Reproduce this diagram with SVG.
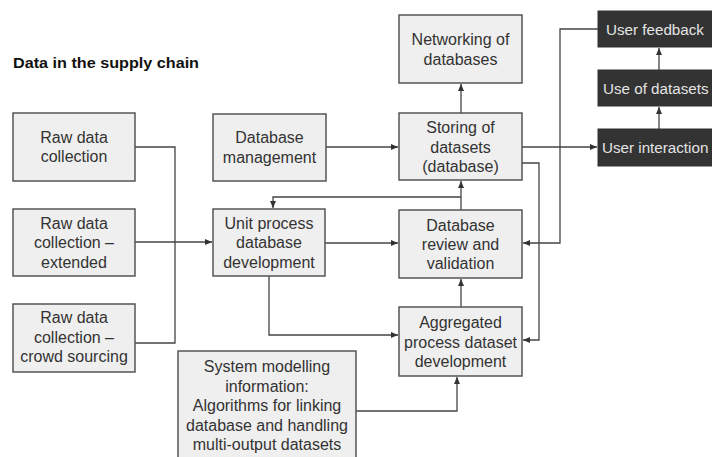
<svg xmlns="http://www.w3.org/2000/svg" width="712" height="457" viewBox="0 0 712 457">
<style>
.box{fill:#efefef;stroke:#555;stroke-width:1.5}
.dark{fill:#333;stroke:#333;stroke-width:1}
.t{font-family:"Liberation Sans",Arial,sans-serif;font-size:16px;fill:#333;text-anchor:middle}
.dt{font-family:"Liberation Sans",Arial,sans-serif;font-size:15.2px;fill:#e4e4e4;text-anchor:start}
.title{font-family:"Liberation Sans",Arial,sans-serif;font-size:15px;font-weight:bold;fill:#111}
.c{fill:none;stroke:#444;stroke-width:1.3}
.a{marker-end:url(#arr)}
</style>
<defs>
<marker id="arr" markerUnits="userSpaceOnUse" markerWidth="8" markerHeight="8" viewBox="0 0 8 8" refX="7" refY="4" orient="auto">
<path d="M0,1 L7,4 L0,7 Z" fill="#333"/>
</marker>
</defs>
<rect width="712" height="457" fill="#fff"/>
<text class="title" x="13" y="68" textLength="186" lengthAdjust="spacingAndGlyphs">Data in the supply chain</text>

<g id="connectors">
<path class="c" d="M135,147 H175 V343 H135"/>
<path class="c a" d="M135,242 H212"/>
<path class="c a" d="M326,147 H398"/>
<path class="c a" d="M461,113 V84"/>
<path class="c a" d="M522,147 H597"/>
<path class="c a" d="M461,210 V181"/>
<path class="c a" d="M461,197 H273 V208"/>
<path class="c a" d="M325,243 H398"/>
<path class="c a" d="M269,276 V335 H398"/>
<path class="c a" d="M461,307 V279"/>
<path class="c a" d="M522,163 H539 V340 H523"/>
<path class="c a" d="M598,29 H560 V243 H523"/>
<path class="c a" d="M659,129 V107"/>
<path class="c a" d="M659,70 V48"/>
<path class="c a" d="M356,411 H457 V377"/>
</g>

<g id="raw1"><rect class="box" x="13" y="113" width="122" height="68"/>
<text class="t" x="74" y="143">Raw data</text><text class="t" x="74" y="162">collection</text></g>

<g id="raw2"><rect class="box" x="13" y="209" width="122" height="67"/>
<text class="t" x="74" y="229">Raw data</text><text class="t" x="74" y="248">collection –</text><text class="t" x="74" y="268">extended</text></g>

<g id="raw3"><rect class="box" x="13" y="304" width="122" height="68"/>
<text class="t" x="74" y="323">Raw data</text><text class="t" x="74" y="343">collection –</text><text class="t" x="74" y="362">crowd sourcing</text></g>

<g id="dbmgmt"><rect class="box" x="213" y="114" width="113" height="67"/>
<text class="t" x="269.5" y="143">Database</text><text class="t" x="269.5" y="163">management</text></g>

<g id="unitproc"><rect class="box" x="213" y="209" width="112" height="67"/>
<text class="t" x="269" y="229">Unit process</text><text class="t" x="269" y="248">database</text><text class="t" x="269" y="268">development</text></g>

<g id="sysmod"><rect class="box" x="178" y="351" width="178" height="110"/>
<text class="t" x="267" y="372">System modelling</text><text class="t" x="267" y="391.5">information:</text><text class="t" x="267" y="411">Algorithms for linking</text><text class="t" x="267" y="430.5">database and handling</text><text class="t" x="267" y="450">multi-output datasets</text></g>

<g id="network"><rect class="box" x="399" y="15" width="123" height="68"/>
<text class="t" x="460.5" y="45">Networking of</text><text class="t" x="460.5" y="65">databases</text></g>

<g id="storing"><rect class="box" x="399" y="113" width="123" height="67"/>
<text class="t" x="460.5" y="133">Storing of</text><text class="t" x="460.5" y="153">datasets</text><text class="t" x="460.5" y="172">(database)</text></g>

<g id="review"><rect class="box" x="399" y="210" width="123" height="68"/>
<text class="t" x="460.5" y="231">Database</text><text class="t" x="460.5" y="250">review and</text><text class="t" x="460.5" y="269">validation</text></g>

<g id="aggregated"><rect class="box" x="399" y="307" width="123" height="69"/>
<text class="t" x="460.5" y="328">Aggregated</text><text class="t" x="460.5" y="348">process dataset</text><text class="t" x="460.5" y="367">development</text></g>

<g id="feedback"><rect class="dark" x="598" y="11" width="130" height="36"/>
<text class="dt" x="606" y="35">User feedback</text></g>

<g id="usedata"><rect class="dark" x="598" y="70" width="130" height="36"/>
<text class="dt" x="603" y="94">Use of datasets</text></g>

<g id="interaction"><rect class="dark" x="598" y="129" width="130" height="37"/>
<text class="dt" x="602" y="153">User interaction</text></g>
</svg>
